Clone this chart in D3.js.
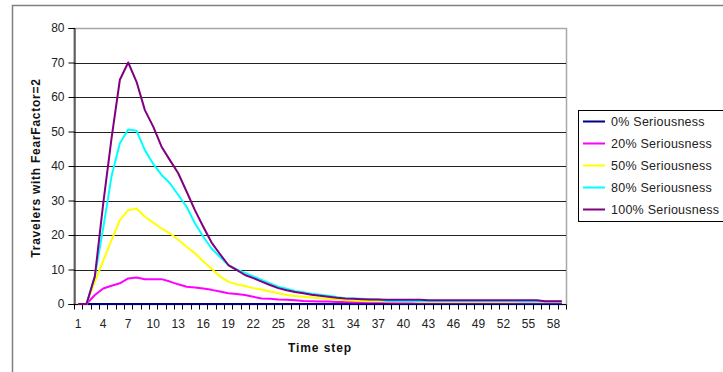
<!DOCTYPE html>
<html><head><meta charset="utf-8">
<script src="https://cdn.jsdelivr.net/npm/d3@7"></script>
<style>html,body{margin:0;padding:0;background:#fff;}svg{display:block;font-family:Arial,"Liberation Sans",sans-serif;}</style>
</head><body>
<svg id="chart" width="723" height="372"></svg>
<script>
const timeSteps = [1,2,3,4,5,6,7,8,9,10,11,12,13,14,15,16,17,18,19,20,21,22,23,24,25,26,27,28,29,30,31,32,33,34,35,36,37,38,39,40,41,42,43,44,45,46,47,48,49,50,51,52,53,54,55,56,57,58,59];
const xTickLabels = [1,4,7,10,13,16,19,22,25,28,31,34,37,40,43,46,49,52,55,58];
const yTicks = [0,10,20,30,40,50,60,70,80];
const seriesNames = ["0% Seriousness","20% Seriousness","50% Seriousness","80% Seriousness","100% Seriousness"];
const seriesColors = ["#000080","#ff00ff","#ffff00","#00ffff","#800080"];
const s0 = [0,0,0,0,0,0,0,0,0,0, 0,0,0,0,0,0,0,0,0,0, 0,0,0,0,0,0,0,0,0,0, 0,0,0,0,0,0,0,0,0,0, 0,0,0,0,0,0,0,0,0,0, 0,0,0,0,0,0,0,0,0];
const s20 = [0,0,2.6,4.5,5.3,6,7.4,7.7,7.2,7.2, 7.2,6.5,5.7,5,4.8,4.5,4.1,3.6,3.1,2.9, 2.6,2.1,1.6,1.5,1.3,1.2,1.1,0.9,0.8,0.7, 0.7,0.6,0.6,0.5,0.5,0.5,0.5,0.5,0.4,0.4, 0.4,0.4,0.4,0.4,0.4,0.4,0.4,0.4,0.4,0.4, 0.4,0.4,0.4,0.4,0.4,0.4,0.4,0.4,0.4];
const s50 = [0,0,6.5,12.5,18.5,24.3,27.2,27.7,25.3,23.6, 21.9,20.5,18.6,16.6,14.7,12.3,10.2,8,6.5,5.7, 5.2,4.6,4.2,3.6,3.1,2.6,2.3,2.1,1.9,1.7, 1.5,1.3,1.1,1.0,0.9,0.8,0.8,0.7,0.7,0.7, 0.7,0.6,0.6,0.6,0.6,0.6,0.6,0.6,0.6,0.6, 0.6,0.6,0.6,0.6,0.6,0.6,0.6,0.6,0.6];
const s80 = [0,0,8,22,37,46.6,50.6,50.2,44.6,40.6, 37.4,35,31.6,28.2,23.4,19.5,16.1,13.7,11.3,10, 9,8,7,6,5,4.4,3.8,3.4,3,2.7, 2.4,2.0,1.7,1.6,1.5,1.4,1.3,0.9,0.9,0.8, 0.8,0.8,0.8,0.8,0.8,0.8,0.8,0.8,0.8,0.8, 0.8,0.8,0.8,0.7,0.7,0.7,0.7,0.7,0.7];
const s100 = [0,0,8,29,48,65,70,64.4,56.2,51.4, 45.6,41.7,37.9,32.6,27.2,22.4,17.8,14.5,11.3,9.9, 8.4,7.5,6.5,5.5,4.6,4.0,3.5,3.1,2.7,2.4, 2.1,1.8,1.6,1.5,1.4,1.3,1.3,1.2,1.2,1.2, 1.2,1.2,1.1,1.1,1.1,1.1,1.1,1.1,1.1,1.1, 1.1,1.1,1.1,1.1,1.1,1.1,0.8,0.8,0.8];
const seriesValues = [s0, s20, s50, s80, s100];

const svg = d3.select("#chart");
const L = 74, R = 566, T = 28, B = 304;

// outer chart border
svg.append("rect").attr("x",12.5).attr("y",5.5).attr("width",800).attr("height",500)
  .attr("fill","none").attr("stroke","#808080").attr("stroke-width",1.5);

const x = d3.scaleBand().domain(timeSteps).range([L,R]).paddingInner(0).paddingOuter(0);
const y = d3.scaleLinear().domain([0,80]).range([B,T]);

// plot area border
svg.append("rect").attr("x",L).attr("y",T+0.5).attr("width",R-L+0.5).attr("height",B-T)
  .attr("fill","none").attr("stroke","#a8a8a8").attr("stroke-width",1.5);

// gridlines
svg.append("g").selectAll("line").data(yTicks.filter(d=>d>0&&d<80)).join("line")
  .attr("x1",L).attr("x2",R).attr("y1",d=>Math.round(y(d))+0.5).attr("y2",d=>Math.round(y(d))+0.5)
  .attr("stroke","#222").attr("stroke-width",1);

// y axis
const yAxis = d3.axisLeft(y).tickValues(yTicks).tickSize(6).tickPadding(4);
const gy = svg.append("g").attr("transform",`translate(${L+0.5},0)`).call(yAxis);
gy.select(".domain").attr("stroke","#000");
gy.selectAll(".tick line").attr("stroke","#000");
gy.selectAll(".tick text").attr("font-size","12px").attr("fill","#222").attr("font-family","Arial, 'Liberation Sans', sans-serif");

// x axis: ticks at category boundaries
const gx = svg.append("g").attr("transform",`translate(0,${B+0.5})`);
gx.append("line").attr("x1",L).attr("x2",R).attr("stroke","#000");
const bounds = timeSteps.map(t=>x(t)).concat([x(timeSteps[timeSteps.length-1])+x.bandwidth()]);
gx.selectAll("line.tk").data(bounds).join("line").attr("class","tk")
  .attr("x1",d=>Math.round(d)+0.5).attr("x2",d=>Math.round(d)+0.5).attr("y1",0).attr("y2",5).attr("stroke","#000");
gx.selectAll("text").data(xTickLabels).join("text")
  .attr("x",d=>x(d)+x.bandwidth()/2).attr("y",23).attr("text-anchor","middle")
  .attr("font-size","12px").attr("fill","#222").text(d=>d);

// series lines
const line = d3.line().x((d,i)=>x(timeSteps[i])+x.bandwidth()/2).y(d=>y(d));
seriesValues.forEach((vals,k)=>{
  svg.append("path").datum(vals).attr("d",line).attr("fill","none")
    .attr("stroke",seriesColors[k]).attr("stroke-width",2).attr("stroke-linejoin","round");
});

// axis titles
svg.append("text").attr("transform","translate(40,168) rotate(-90)").attr("text-anchor","middle")
  .attr("font-size","12px").attr("font-weight","bold").attr("fill","#111").attr("letter-spacing","0.75px")
  .text("Travelers with FearFactor=2");
svg.append("text").attr("x",320).attr("y",352).attr("text-anchor","middle")
  .attr("font-size","12px").attr("font-weight","bold").attr("fill","#111").attr("letter-spacing","0.9px")
  .text("Time step");

// legend
const lg = svg.append("g");
lg.append("rect").attr("x",578.5).attr("y",110.5).attr("width",160).attr("height",111)
  .attr("fill","#fff").attr("stroke","#000").attr("stroke-width",1);
seriesNames.forEach((name,k)=>{
  const yy = 121.5 + k*22;
  lg.append("line").attr("x1",583).attr("x2",605).attr("y1",yy).attr("y2",yy)
    .attr("stroke",seriesColors[k]).attr("stroke-width",2);
  lg.append("text").attr("x",611).attr("y",yy+4.5).attr("font-size","12.5px").attr("letter-spacing","0.25px")
    .attr("fill","#222").text(name);
});
</script>
</body></html>
